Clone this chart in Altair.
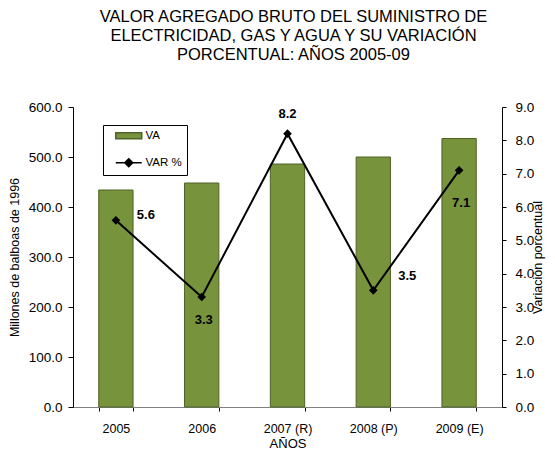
import altair as alt
import pandas as pd

years = ["2005", "2006", "2007 (R)", "2008 (P)", "2009 (E)"]
va = [434, 448, 486, 500, 537]
var_pct = [5.6, 3.3, 8.2, 3.5, 7.1]
series = ["VA", "VAR %"]

df = pd.DataFrame({"year": years, "va": va, "var": var_pct})

FONT = "Liberation Sans"
GREEN = "#77933C"
GREEN_DARK = "#4F6228"

x_enc = alt.X(
    "year:N", sort=years, title="AÑOS",
    scale=alt.Scale(paddingInner=0.6, paddingOuter=0.3),
    axis=alt.Axis(labelAngle=0, tickBand="extent", tickSize=4, tickColor="black",
                  domainColor="#808080", labelPadding=11, titlePadding=3,
                  labelFontSize=12.5, titleFontSize=13, titleFontWeight="normal"),
)

bars = alt.Chart(df).mark_bar(color=GREEN, stroke=GREEN_DARK, strokeWidth=1).encode(
    x=x_enc,
    y=alt.Y("va:Q", title="Millones de balboas de 1996",
            scale=alt.Scale(domain=[0, 600]),
            axis=alt.Axis(values=[0, 100, 200, 300, 400, 500, 600], format=".1f",
                          orient="left", tickSize=5, labelPadding=6, titlePadding=7,
                          domainColor="black", tickColor="black",
                          labelFontSize=13.5, titleFontSize=12.5, titleFontWeight="normal")),
)

y_right = alt.Y("var:Q", title="Variación porcentual",
                scale=alt.Scale(domain=[0, 9]),
                axis=alt.Axis(values=[0, 1, 2, 3, 4, 5, 6, 7, 8, 9], format=".1f",
                              orient="right", tickSize=4, labelPadding=9, titlePadding=11,
                              titleAngle=270, domainColor="black", tickColor="black",
                              labelFontSize=13.5, titleFontSize=12.5, titleFontWeight="normal"))

base = alt.Chart(df).encode(x=alt.X("year:N", sort=years), y=y_right)
line = base.mark_line(color="black", strokeWidth=2)
pts = base.mark_point(shape="diamond", filled=True, color="black", size=75, opacity=1)

offsets = {"2005": (30, -5), "2006": (2, 23), "2007 (R)": (0, -20),
           "2008 (P)": (34, -14), "2009 (E)": (2, 33)}
texts = []
for yr in years:
    dx, dy = offsets[yr]
    texts.append(
        base.transform_filter(alt.datum.year == yr)
        .mark_text(font=FONT, fontSize=13, fontWeight="bold", color="black", dx=dx, dy=dy)
        .encode(text=alt.Text("var:Q", format=".1f"))
    )

legend_layer = alt.Chart(df).transform_filter(alt.datum.va < 0).mark_point(
    filled=True, opacity=1
).encode(
    color=alt.Color("s:N", scale=alt.Scale(domain=series, range=[GREEN, "black"]),
                    legend=alt.Legend(title=None, orient="none", legendX=30, legendY=18)),
    shape=alt.Shape("s:N", scale=alt.Scale(domain=series, range=[
        "M-4.33,-1H4.33V1H-4.33Z",
        "M-4.33,0H4.33M0,-1.33L1.33,0L0,1.33L-1.33,0Z",
    ])),
    stroke=alt.Stroke("s:N", scale=alt.Scale(domain=series, range=[GREEN_DARK, "black"])),
)

right = alt.layer(line, pts, *texts)

chart = alt.layer(bars, right, legend_layer).resolve_scale(y="independent").properties(
    width=429, height=300,
    padding={"left": 65, "top": 99, "right": 45, "bottom": 44},
    autosize=alt.AutoSizeParams(type="none"),
    title=alt.TitleParams(
        text=["VALOR AGREGADO BRUTO DEL SUMINISTRO DE",
              "ELECTRICIDAD, GAS Y AGUA Y SU VARIACIÓN",
              "PORCENTUAL: AÑOS 2005-09"],
        font=FONT, fontSize=16.5, fontWeight="normal", lineHeight=19,
        anchor="middle", frame="group", offset=37, dx=6, color="black",
    ),
).configure(font=FONT).configure_view(stroke=None).configure_axis(
    grid=False, labelFont=FONT, titleFont=FONT, labelColor="black", titleColor="black",
).configure_legend(
    strokeColor="black", fillColor="white", padding=5, symbolSize=36, symbolOffset=15,
    labelOffset=11, rowPadding=13, labelFont=FONT, labelFontSize=11.5, labelColor="black",
    symbolStrokeWidth=1.5,
)

chart.save("out.html", embed_options={"renderer": "svg", "actions": False})
